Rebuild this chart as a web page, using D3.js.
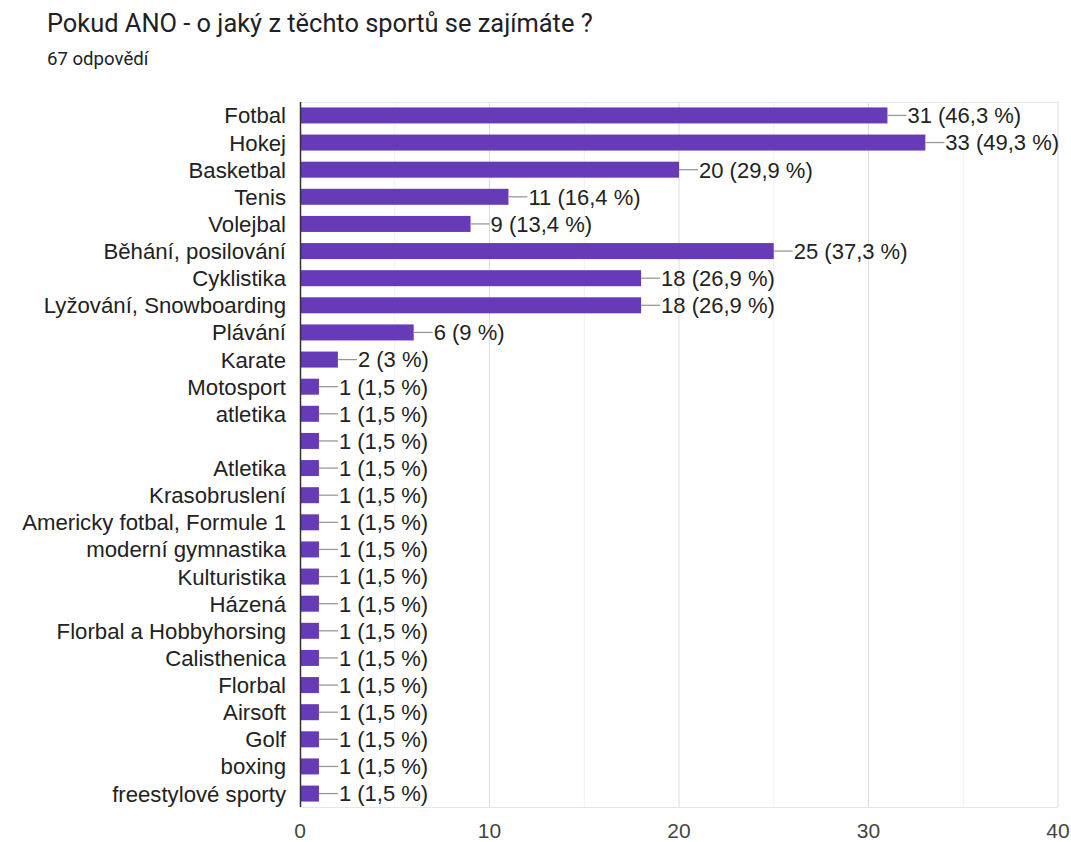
<!DOCTYPE html>
<html lang="cs">
	<head>
		<meta charset="UTF-8">
		<title>Pokud ANO - o jaký z těchto sportů se zajímáte ?</title>
		<style>
			body, html {
				margin: 0;
				background-color: #ffffff;
			}
		</style>
	</head>
	<body>
		<svg id="svg" width="1071" height="842"></svg>

		<script src="https://d3js.org/d3.v7.min.js"></script>
		<script>
			const sports = ['Fotbal', 'Hokej', 'Basketbal', 'Tenis', 'Volejbal', 'Běhání, posilování', 'Cyklistika',
				'Lyžování, Snowboarding', 'Plávání', 'Karate', 'Motosport', 'atletika', '', 'Atletika', 'Krasobruslení',
				'Americky fotbal, Formule 1', 'moderní gymnastika', 'Kulturistika', 'Házená', 'Florbal a Hobbyhorsing',
				'Calisthenica', 'Florbal', 'Airsoft', 'Golf', 'boxing', 'freestylové sporty']
			const counts = [31, 33, 20, 11, 9, 25, 18, 18, 6, 2, 1, 1, 1, 1, 1, 1, 1, 1, 1, 1, 1, 1, 1, 1, 1, 1]
			const percents = ['46,3', '49,3', '29,9', '16,4', '13,4', '37,3', '26,9', '26,9', '9', '3',
				'1,5', '1,5', '1,5', '1,5', '1,5', '1,5', '1,5', '1,5', '1,5', '1,5', '1,5', '1,5', '1,5', '1,5', '1,5', '1,5']
			const xTicks = [0, 10, 20, 30, 40]
			const xMinor = [5, 15, 25, 35]

			const svg = d3.select('#svg')
			const labelFont = 'Arial, "Liberation Sans", sans-serif'

			svg.append('text')
				.attr('x', 47).attr('y', 32)
				.attr('font-family', 'Roboto, sans-serif')
				.attr('font-size', 25.4)
				.attr('fill', '#202124')
				.text('Pokud ANO - o jaký z těchto sportů se zajímáte ?')

			svg.append('text')
				.attr('x', 47).attr('y', 65)
				.attr('font-family', 'Roboto, sans-serif')
				.attr('font-size', 18.6)
				.attr('fill', '#202124')
				.text('67 odpovědí')

			const x = d3.scaleLinear().domain([0, 40]).range([300, 1058])
			const y = d3.scaleBand().domain(d3.range(sports.length)).range([102, 807]).paddingInner(0.41).paddingOuter(0.2)

			// minor + major gridlines
			svg.selectAll('.minor')
				.data(xMinor)
				.enter()
				.append('line')
				.attr('x1', d => x(d)).attr('x2', d => x(d))
				.attr('y1', 102).attr('y2', 807)
				.attr('stroke', '#f0f0f0')
			svg.selectAll('.major')
				.data(xTicks.slice(1))
				.enter()
				.append('line')
				.attr('x1', d => x(d)).attr('x2', d => x(d))
				.attr('y1', 102).attr('y2', 807)
				.attr('stroke', '#dcdcdc')
			svg.append('line').attr('x1', 300).attr('x2', 1058).attr('y1', 102.5).attr('y2', 102.5).attr('stroke', '#e6e6e6')
			svg.append('line').attr('x1', 300).attr('x2', 1058).attr('y1', 807.5).attr('y2', 807.5).attr('stroke', '#e6e6e6')

			const rows = svg.selectAll('.row')
				.data(sports.map((s, i) => ({ name: s, count: counts[i], pct: percents[i], i })))
				.enter()
				.append('g')

			rows.append('rect')
				.attr('x', x(0))
				.attr('y', d => y(d.i))
				.attr('width', d => x(d.count) - x(0))
				.attr('height', y.bandwidth())
				.attr('fill', '#673ab7')

			rows.append('line')
				.attr('x1', d => x(d.count))
				.attr('x2', d => x(d.count) + 19)
				.attr('y1', d => y(d.i) + y.bandwidth() / 2)
				.attr('y2', d => y(d.i) + y.bandwidth() / 2)
				.attr('stroke', '#999999')
				.attr('stroke-width', 1.3)

			rows.append('text')
				.attr('x', d => x(d.count) + 20)
				.attr('y', d => y(d.i) + y.bandwidth() / 2)
				.attr('dy', '0.36em')
				.attr('font-family', labelFont)
				.attr('font-size', 22)
				.attr('fill', '#222222')
				.text(d => `${d.count} (${d.pct} %)`)

			rows.append('text')
				.attr('x', 286)
				.attr('y', d => y(d.i) + y.bandwidth() / 2)
				.attr('dy', '0.36em')
				.attr('text-anchor', 'end')
				.attr('font-family', labelFont)
				.attr('font-size', 22.2)
				.attr('fill', '#222222')
				.text(d => d.name)

			// axis line
			svg.append('line')
				.attr('x1', 300.5).attr('x2', 300.5)
				.attr('y1', 102).attr('y2', 807)
				.attr('stroke', '#333333')
				.attr('stroke-width', 1.5)

			svg.selectAll('.tick')
				.data(xTicks)
				.enter()
				.append('text')
				.attr('x', d => x(d))
				.attr('y', 837.5)
				.attr('text-anchor', 'middle')
				.attr('font-family', labelFont)
				.attr('font-size', 21)
				.attr('fill', '#444444')
				.text(d => d)
		</script>
	</body>
</html>
